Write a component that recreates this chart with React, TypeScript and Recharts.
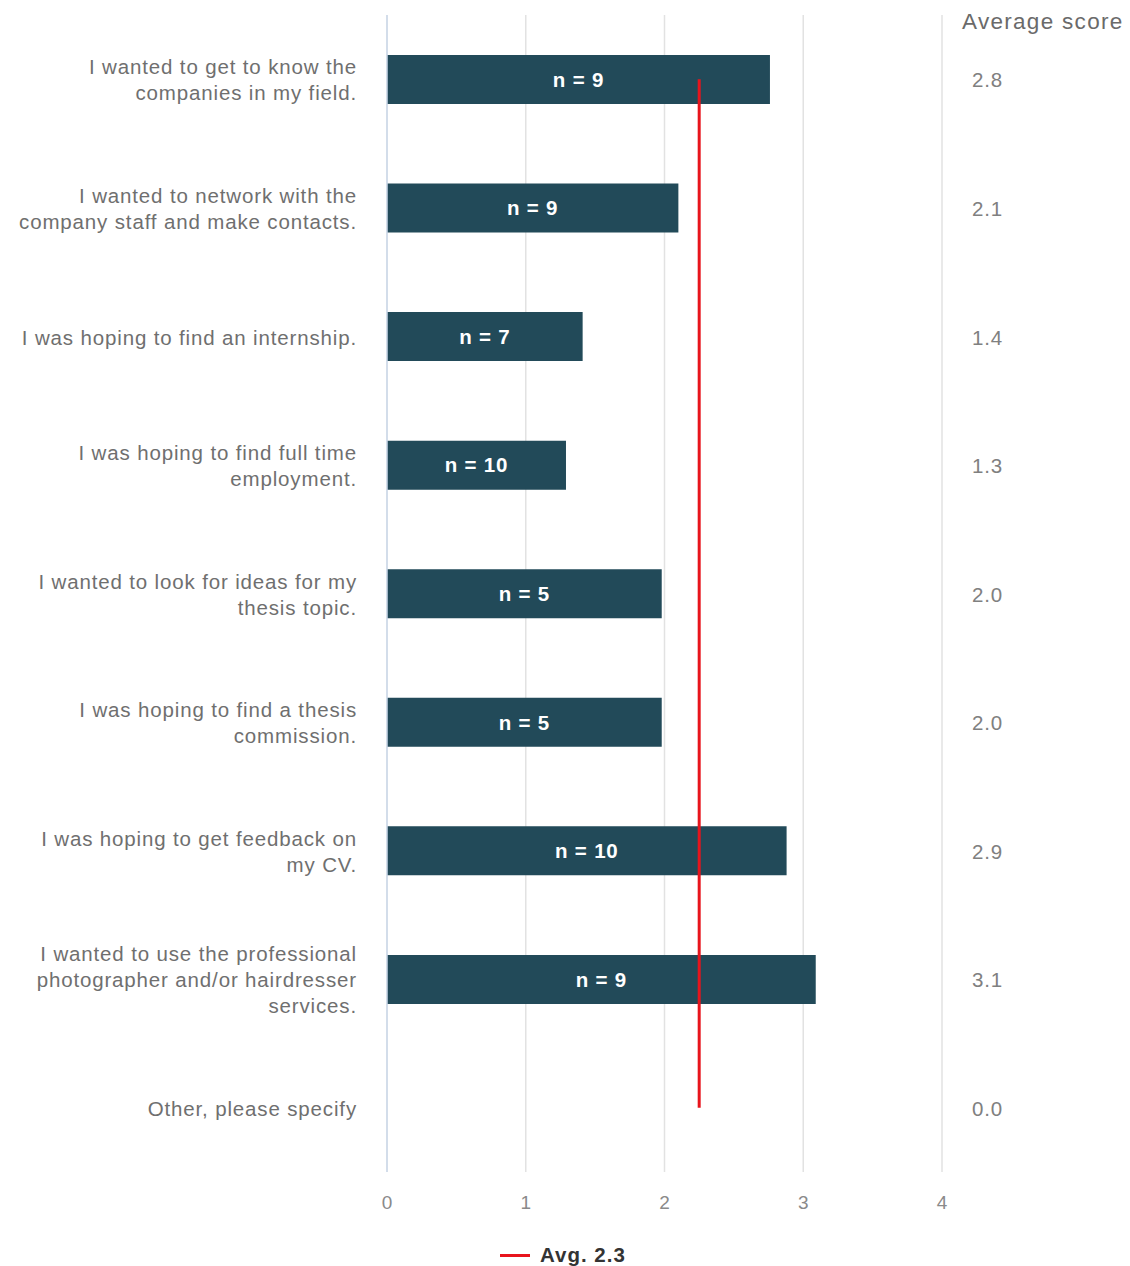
import React from "react";
import {
  ComposedChart,
  Bar,
  Line,
  XAxis,
  YAxis,
  CartesianGrid,
  LabelList,
} from "recharts";

const categories = [
  "I wanted to get to know the\ncompanies in my field.",
  "I wanted to network with the\ncompany staff and make contacts.",
  "I was hoping to find an internship.",
  "I was hoping to find full time\nemployment.",
  "I wanted to look for ideas for my\nthesis topic.",
  "I was hoping to find a thesis\ncommission.",
  "I was hoping to get feedback on\nmy CV.",
  "I wanted to use the professional\nphotographer and/or hairdresser\nservices.",
  "Other, please specify",
];
const scores = [2.76, 2.1, 1.41, 1.29, 1.98, 1.98, 2.88, 3.09, 0];
const scoreLabels = ["2.8", "2.1", "1.4", "1.3", "2.0", "2.0", "2.9", "3.1", "0.0"];
const counts: (number | null)[] = [9, 9, 7, 10, 5, 5, 10, 9, null];
const avgValue = 2.25;
const avgLabel = "Avg. 2.3";
const xTicks = [0, 1, 2, 3, 4];

const data = categories.map((name, i) => ({
  name,
  score: scores[i],
  scoreLabel: scoreLabels[i],
  n: counts[i],
  avg: avgValue,
}));

const FONT = '"Liberation Sans", Arial, Helvetica, sans-serif';

const LeftTick = (props: any) => {
  const { x, y, payload } = props;
  const lines = String(payload.value).split("\n");
  const lh = 26;
  const start = -((lines.length - 1) * lh) / 2;
  return (
    <text
      x={x}
      y={y}
      textAnchor="end"
      fill="#6f6f6f"
      fontSize={20.5}
      letterSpacing={0.85}
      fontFamily={FONT}
    >
      {lines.map((l, i) => (
        <tspan key={i} x={x - 22} y={y + start + i * lh + 1} dy="0.35em">
          {l}
        </tspan>
      ))}
    </text>
  );
};

const RightTick = (props: any) => {
  const { x, y, index } = props;
  return (
    <text
      x={x + 22}
      y={y + 1}
      dy="0.35em"
      textAnchor="start"
      fill="#808080"
      fontSize={20.5}
      letterSpacing={0.8}
      fontFamily={FONT}
    >
      {scoreLabels[index]}
    </text>
  );
};

const BottomTick = (props: any) => {
  const { x, y, payload } = props;
  return (
    <text
      x={x}
      y={y + 22}
      dy="0.35em"
      textAnchor="middle"
      fill="#8a8a8a"
      fontSize={19}
      fontFamily={FONT}
    >
      {payload.value}
    </text>
  );
};

export default function App() {
  return (
    <div
      style={{
        position: "absolute",
        left: 0,
        top: 0,
        width: 1130,
        height: 1266,
        background: "#fff",
        fontFamily: FONT,
      }}
    >
      <ComposedChart
        width={1130}
        height={1266}
        data={data}
        layout="vertical"
        margin={{ top: 15, right: 0, bottom: 0, left: 7 }}
        barCategoryGap={0}
      >
        <CartesianGrid horizontal={false} vertical stroke="#e2e2e2" strokeWidth={1.5} />
        <XAxis
          type="number"
          domain={[0, 4]}
          ticks={xTicks}
          axisLine={false}
          tickLine={false}
          tick={<BottomTick />}
          height={94}
        />
        <YAxis
          yAxisId="left"
          type="category"
          dataKey="name"
          width={380}
          axisLine={{ stroke: "#cbd8ea", strokeWidth: 1.5 }}
          tickLine={false}
          tick={<LeftTick />}
          interval={0}
        />
        <YAxis
          yAxisId="right"
          orientation="right"
          type="category"
          dataKey="name"
          width={188}
          axisLine={false}
          tickLine={false}
          tick={<RightTick />}
          interval={0}
        />
        <Bar
          yAxisId="left"
          dataKey="score"
          fill="#224a59"
          barSize={49}
          isAnimationActive={false}
        >
          <LabelList
            dataKey="n"
            position="center"
            fill="#ffffff"
            fontSize={20.5}
            fontWeight="bold"
            letterSpacing={0.8}
            fontFamily={FONT}
            formatter={(v: any) => (v == null ? "" : `n = ${v}`)}
          />
        </Bar>
        <Line
          yAxisId="left"
          dataKey="avg"
          stroke="#e8141c"
          strokeWidth={3}
          dot={false}
          activeDot={false}
          isAnimationActive={false}
        />
      </ComposedChart>
      <div
        style={{
          position: "absolute",
          left: 962,
          top: 9,
          fontSize: 22.5,
          letterSpacing: 1.3,
          color: "#6a6a6a",
          whiteSpace: "nowrap",
        }}
      >
        Average score
      </div>
      <div
        style={{
          position: "absolute",
          left: 500,
          top: 1243,
          display: "flex",
          alignItems: "center",
          fontSize: 20.5,
          fontWeight: "bold",
          letterSpacing: 1,
          color: "#333",
          whiteSpace: "nowrap",
        }}
      >
        <span
          style={{
            display: "inline-block",
            width: 30,
            height: 3,
            background: "#e8141c",
            marginRight: 10,
          }}
        />
        {avgLabel}
      </div>
    </div>
  );
}
